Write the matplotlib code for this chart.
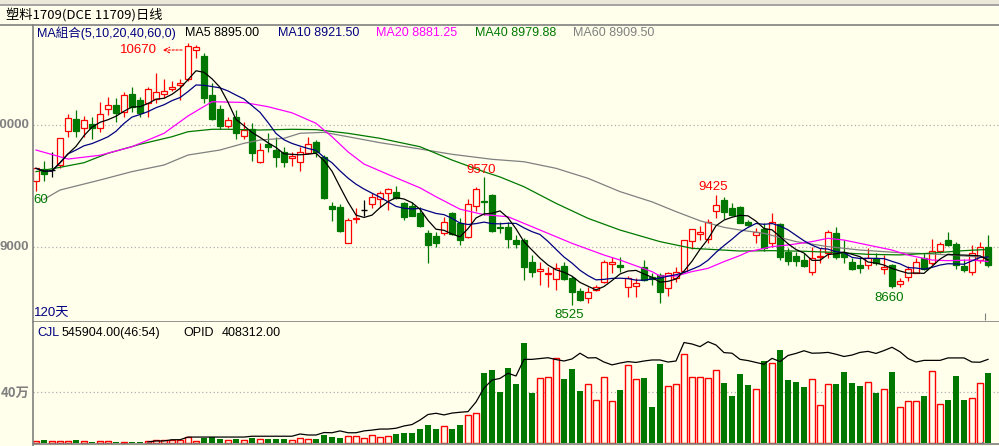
import matplotlib
matplotlib.use('Agg')
import matplotlib.pyplot as plt
from matplotlib.patches import Rectangle
import numpy as np
import pandas as pd

plt.rcParams['font.family'] = ['Liberation Sans', 'Noto Sans CJK SC', 'DejaVu Sans']

W, H = 999, 446
BG = '#FFFFEC'
RED = '#FF0000'
GREEN = '#007800'
NAVY = '#000080'
MAG = '#FF00FF'
GREY = '#808080'

# daily OHLC, 120 sessions
opens = [9540, 9637, 9628, 9672, 9953, 10046, 9973, 10008, 9973, 10128,
         10161, 10109, 10254, 10205, 10183, 10213, 10251, 10298, 10325, 10374,
         10615, 10566, 10246, 10131, 9995, 10068, 9913, 9964, 9694, 9844,
         9795, 9781, 9727, 9700, 9773, 9858, 9735, 9339, 9325, 9030,
         9228, 9303, 9350, 9391, 9440, 9448, 9363, 9339, 9276, 9112,
         9090, 9112, 9276, 9194, 9079, 9339, 9380, 9426, 9162, 9167,
         9057, 9057, 8877, 8805, 8778, 8737, 8845, 8744, 8642, 8585,
         8647, 8711, 8860, 8852, 8675, 8683, 8836, 8757, 8770, 8661,
         8743, 8807, 9052, 9104, 9063, 9295, 9385, 9317, 9325, 9205,
         9098, 9145, 9030, 9189, 8962, 8926, 8894, 8798, 8915, 8954,
         9117, 8954, 8880, 8852, 8852, 8907, 8817, 8852, 8697, 8751,
         8789, 8907, 8872, 8967, 9057, 9022, 8844, 8798, 8894, 8997]
highs = [9650, 9705, 9780, 9891, 10090, 10123, 10074, 10068, 10189, 10232,
         10219, 10273, 10314, 10232, 10314, 10423, 10374, 10363, 10374, 10670,
         10655, 10588, 10342, 10164, 10068, 10123, 10027, 10014, 9850, 9932,
         9900, 9822, 9781, 9822, 9900, 9880, 9754, 9369, 9352, 9236,
         9317, 9385, 9440, 9459, 9486, 9500, 9370, 9369, 9331, 9139,
         9126, 9248, 9290, 9236, 9394, 9490, 9570, 9435, 9208, 9208,
         9098, 9070, 8938, 8880, 8838, 8868, 8880, 8760, 8660, 8675,
         8691, 8894, 8918, 8918, 8760, 8743, 8894, 8784, 8790, 8795,
         8836, 9060, 9150, 9172, 9227, 9425, 9410, 9358, 9340, 9225,
         9153, 9194, 9276, 9200, 8989, 8962, 8948, 9003, 8989, 9140,
         9161, 9057, 8910, 8915, 8989, 8950, 8935, 8860, 8743, 8844,
         8907, 8954, 9063, 9044, 9126, 9040, 8902, 9016, 9044, 9098]
lows = [9460, 9540, 9570, 9645, 9904, 9904, 9904, 9885, 9945, 10082,
        10027, 10068, 10109, 10063, 10063, 10178, 10219, 10279, 10205, 10360,
        10546, 10178, 10040, 9964, 9973, 9885, 9885, 9708, 9690, 9781,
        9658, 9658, 9667, 9626, 9765, 9740, 9390, 9214, 9126, 9030,
        9194, 9254, 9317, 9331, 9306, 9395, 9222, 9250, 9165, 8872,
        9003, 9101, 9096, 9016, 9071, 9295, 9262, 9126, 9112, 8995,
        8995, 8730, 8757, 8688, 8669, 8647, 8730, 8525, 8560, 8544,
        8640, 8705, 8784, 8795, 8593, 8593, 8725, 8688, 8540, 8601,
        8716, 8798, 8981, 9057, 9036, 9235, 9227, 9255, 9195, 9170,
        9036, 8970, 9003, 8894, 8852, 8844, 8835, 8770, 8866, 8907,
        8905, 8866, 8810, 8784, 8817, 8850, 8778, 8660, 8669, 8724,
        8785, 8810, 8852, 8950, 9010, 8817, 8798, 8770, 8872, 8839]
closes = [9645, 9598, 9628, 9891, 10055, 9953, 10038, 9975, 10090, 10161,
          10096, 10243, 10150, 10101, 10292, 10273, 10279, 10314, 10342, 10650,
          10638, 10219, 10046, 9992, 10041, 9932, 9959, 9768, 9795, 9817,
          9740, 9700, 9746, 9776, 9844, 9776, 9399, 9312, 9134, 9222,
          9240, 9303, 9407, 9440, 9472, 9399, 9248, 9257, 9172, 9016,
          9036, 9203, 9104, 9057, 9350, 9475, 9369, 9131, 9155, 9066,
          9024, 8836, 8795, 8822, 8784, 8827, 8737, 8634, 8566, 8628,
          8675, 8877, 8877, 8836, 8749, 8702, 8730, 8741, 8634, 8784,
          8798, 9057, 9145, 9120, 9203, 9344, 9290, 9262, 9200, 9180,
          9126, 8989, 9208, 8921, 8889, 8889, 8844, 8907, 8926, 9126,
          8915, 8915, 8817, 8830, 8907, 8872, 8833, 8680, 8724, 8817,
          8880, 8817, 8967, 9022, 9016, 8852, 8811, 8954, 9003, 8852]

# volume (CJL) and open interest (OPID), thousands of lots
vol_k = [16, 23, 16, 16, 16, 23, 16, 8, 16, 16,
         8, 8, 8, 8, 12, 21, 21, 26, 26, 47,
         16, 39, 47, 31, 23, 31, 23, 39, 31, 31,
         31, 31, 23, 39, 31, 31, 62, 47, 39, 52,
         52, 39, 60, 44, 52, 70, 78, 78, 109, 140,
         109, 133, 109, 140, 216, 239, 546, 575, 398, 585,
         460, 788, 390, 512, 520, 668, 499, 577, 406, 466,
         341, 520, 333, 413, 614, 505, 507, 281, 624, 450,
         466, 700, 520, 520, 512, 575, 468, 367, 538, 452,
         427, 640, 629, 733, 491, 476, 437, 505, 302, 466,
         460, 554, 468, 445, 481, 390, 427, 554, 286, 328,
         333, 367, 567, 310, 335, 523, 335, 356, 473, 546]
nan = np.nan
opid_k = [nan] * 14 + [
    5, 10, 10, 16, 16, 29,
    29, 29, 29, 29, 29, 29, 29, 33, 33, 33,
    33, 33, 33, 44, 39, 39, 51, 50, 59, 50,
    50, 59, 63, 68, 68, 72, 83, 90, 112, 139,
    145, 137, 146, 150, 153, 200, 268, 307, 315, 340,
    327, 408, 408, 412, 416, 407, 400, 410, 438, 415,
    416, 395, 381, 390, 397, 393, 400, 405, 405, 395,
    400, 490, 483, 470, 494, 478, 441, 438, 408, 402,
    393, 384, 413, 397, 427, 437, 450, 438, 439, 442,
    433, 422, 429, 442, 447, 437, 451, 467, 445, 412,
    395, 403, 403, 403, 415, 415, 415, 395, 394, 408]

ma20_idx = [0, 4, 8, 12, 16, 19, 22, 26, 29, 32, 35, 37, 39, 41, 44, 48, 50, 53, 56, 59,
            63, 67, 71, 73, 77, 78, 80, 82, 84, 86, 88, 89, 92, 94, 97, 99, 101, 104,
            107, 109, 112, 114, 117, 119]
ma20_val = [9795, 9721, 9752, 9822, 9932, 10074, 10191, 10185, 10150, 10100, 10014, 9904,
            9780, 9680, 9595, 9485, 9412, 9310, 9265, 9248, 9139, 9030, 8934, 8893, 8798,
            8762, 8762, 8798, 8825, 8880, 8930, 8960, 9003, 9016, 9044, 9071, 9057, 9016,
            8975, 8934, 8893, 8888, 8893, 8881]
ma40_idx = [0, 3, 6, 9, 13, 17, 19, 22, 24, 28, 32, 35, 39, 43, 48, 52, 56, 58, 61, 65,
            69, 73, 78, 82, 88, 92, 96, 100, 104, 108, 112, 116, 119]
ma40_val = [9618, 9653, 9691, 9768, 9842, 9904, 9945, 9965, 9965, 9959, 9965, 9962, 9932,
            9891, 9822, 9713, 9617, 9574, 9494, 9358, 9235, 9139, 9044, 8989, 8967, 8970,
            8965, 8955, 8940, 8935, 8950, 8970, 8980]
ma60_idx = [1, 3, 8, 12, 16, 19, 23, 26, 28, 31, 33, 36, 39, 43, 47, 52, 57, 61, 65, 69,
            73, 77, 80, 83, 86, 88, 91, 95, 99, 103, 108, 112, 116, 119]
ma60_val = [9391, 9467, 9549, 9618, 9672, 9754, 9795, 9850, 9877, 9891, 9932, 9940, 9904,
            9855, 9814, 9760, 9719, 9699, 9645, 9563, 9454, 9370, 9290, 9215, 9161, 9139,
            9112, 9044, 9003, 8975, 8953, 8943, 8926, 8912]

df = pd.DataFrame({'o': opens, 'h': highs, 'l': lows, 'c': closes, 'v': vol_k})
df['ma5'] = df['c'].rolling(5, min_periods=1).mean()
df['ma10'] = df['c'].rolling(10, min_periods=1).mean()
n = len(df)
x = np.arange(n)
up = df['c'] > df['o']
down = df['c'] < df['o']
flat = df['c'] == df['o']

fig = plt.figure(figsize=(W / 100, H / 100), dpi=100, facecolor=BG)


def fx(px):
    return px / W


def fy(py):
    return 1 - py / H


def ftxt(px, py, s, **kw):
    fig.text(fx(px), fy(py), s, va='center', **kw)


# window chrome at the top
fig.patches.append(Rectangle((0, fy(4)), 1, 4 / H, transform=fig.transFigure,
                             facecolor='#ECE9D8', edgecolor='none'))
fig.patches.append(Rectangle((0, fy(6)), 1, 2 / H, transform=fig.transFigure,
                             facecolor='#A5A5A5', edgecolor='none'))
fig.add_artist(plt.Line2D([0, 1], [fy(25), fy(25)], color=GREY, lw=1.2))
fig.add_artist(plt.Line2D([fx(33), fx(33)], [0, fy(25)], color=GREY, lw=1.2))
ftxt(6, 15, '塑料1709(DCE 11709)日线', fontsize=9.5, color='black',
     family=['Noto Sans CJK SC', 'DejaVu Sans'])

# ---- price panel
ax = fig.add_axes([fx(33), fy(322), fx(999) - fx(33), fy(25) - fy(322)])
ax.set_facecolor(BG)
ax.set_xlim(-0.375, 120.375)
ax.set_ylim(8385, 10820)
for s in ['top', 'right', 'left']:
    ax.spines[s].set_visible(False)
ax.spines['bottom'].set_color(GREY)
ax.spines['bottom'].set_linewidth(1.2)
ax.set_xticks([])
ax.set_yticks([])
for lvl in [9000, 10000]:
    ax.axhline(lvl, color='#B0B0B0', lw=0.9, ls=(0, (1, 2)), zorder=1)

bw = 0.68
lw = 0.9
# wicks
ax.vlines(x[up], df['l'][up], df['h'][up], color=RED, lw=lw, zorder=2)
ax.vlines(x[down], df['l'][down], df['h'][down], color=GREEN, lw=lw, zorder=2)
ax.vlines(x[flat], df['l'][flat], df['h'][flat], color='black', lw=lw, zorder=2)
# bodies
ax.bar(x[up], (df['c'] - df['o'])[up], bottom=df['o'][up], width=bw,
       facecolor=BG, edgecolor=RED, lw=lw, zorder=3)
ax.bar(x[down], (df['o'] - df['c'])[down], bottom=df['c'][down], width=bw,
       facecolor=GREEN, edgecolor=GREEN, lw=lw, zorder=3)
ax.hlines(df['c'][flat], x[flat] - bw / 2, x[flat] + bw / 2, color='black', lw=1, zorder=3)

# moving averages
ax.plot(ma60_idx, ma60_val, color=GREY, lw=0.9, zorder=4)
ax.plot(ma40_idx, ma40_val, color=GREEN, lw=0.9, zorder=4)
ax.plot(ma20_idx, ma20_val, color=MAG, lw=0.9, zorder=4)
ax.plot(x, df['ma10'], color=NAVY, lw=0.9, zorder=4)
ax.plot(x, df['ma5'], color='black', lw=0.9, zorder=4)

# extreme labels
hi = int(np.argmax(highs))
ax.annotate('', xy=(hi - 3.5, highs[hi] - 55), xytext=(hi - 0.4, highs[hi] - 55),
            arrowprops=dict(arrowstyle='->', color=RED, lw=0.8, ls=(0, (2, 1.5))), zorder=5)
ax.text(hi - 3.9, highs[hi] - 55, str(highs[hi]), color=RED, fontsize=9.5,
        ha='right', va='center', zorder=5)
for i, off in [(56, 60), (85, 67)]:
    ax.text(i - 0.3, highs[i] + off, str(highs[i]), color=RED, fontsize=9.5,
            ha='center', va='center', zorder=5)
for i, off in [(67, -82), (107, -78)]:
    ax.text(i - 0.3, lows[i] + off, str(lows[i]), color=GREEN, fontsize=9.5,
            ha='center', va='center', zorder=5)
ax.vlines(118.6, 8400, 8460, color=GREY, lw=0.8)

# legend row
ftxt(37, 33, 'MA組合(5,10,20,40,60,0)', fontsize=9, color=NAVY)
ftxt(185, 33, 'MA5 8895.00', fontsize=9, color='black')
ftxt(278, 33, 'MA10 8921.50', fontsize=9, color=NAVY)
ftxt(376, 33, 'MA20 8881.25', fontsize=9, color=MAG)
ftxt(475, 33, 'MA40 8979.88', fontsize=9, color=GREEN)
ftxt(573, 33, 'MA60 8909.50', fontsize=9, color=GREY)
ftxt(33, 200, '60', fontsize=9.5, color=GREEN)
ftxt(34, 313, '120天', fontsize=9.5, color=NAVY)

# left axis labels (the 10000 label is cut by the window edge, as on screen)
ftxt(29, 125, '10000', fontsize=9.5, color=GREY, ha='right', weight='bold')
ftxt(29, 247, '9000', fontsize=9.5, color=GREY, ha='right', weight='bold')

# ---- volume panel
axv = fig.add_axes([fx(33), fy(444), fx(999) - fx(33), fy(322) - fy(444)])
axv.set_facecolor(BG)
axv.set_xlim(-0.375, 120.375)
axv.set_ylim(-7.85, 121 * 7.85)
for s in ['top', 'right', 'left']:
    axv.spines[s].set_visible(False)
axv.spines['bottom'].set_color(GREY)
axv.spines['bottom'].set_linewidth(1.2)
axv.set_xticks([])
axv.set_yticks([])
axv.axhline(400, color='#B0B0B0', lw=0.9, ls=(0, (1, 2)), zorder=1)
vup = df['c'] >= df['o']
vdn = ~vup
axv.bar(x[vup], df['v'][vup], width=0.7, facecolor=BG, edgecolor=RED, lw=1.0, zorder=2)
axv.bar(x[vdn], df['v'][vdn], width=0.82, facecolor=GREEN, edgecolor='none', zorder=2)
axv.vlines(118.4, 0, 10, color=GREY, lw=1.5, zorder=3)

axo = axv.twinx()
axo.set_ylim(-4.878, 121 * 4.878)
axo.axis('off')
axo.plot(x, opid_k, color='black', lw=0.9, zorder=4)

ftxt(37, 333, 'CJL', fontsize=9, color=NAVY)
ftxt(62, 333, '545904.00(46:54)', fontsize=9, color='black')
ftxt(183, 333, 'OPID', fontsize=9, color='black')
ftxt(222, 333, '408312.00', fontsize=9, color='black')
ftxt(30, 393, '40万', fontsize=9.5, color=GREY, ha='right', weight='bold',
     family=['Noto Sans CJK SC', 'DejaVu Sans'])

fig.savefig('out.png', dpi=100, facecolor=BG)
